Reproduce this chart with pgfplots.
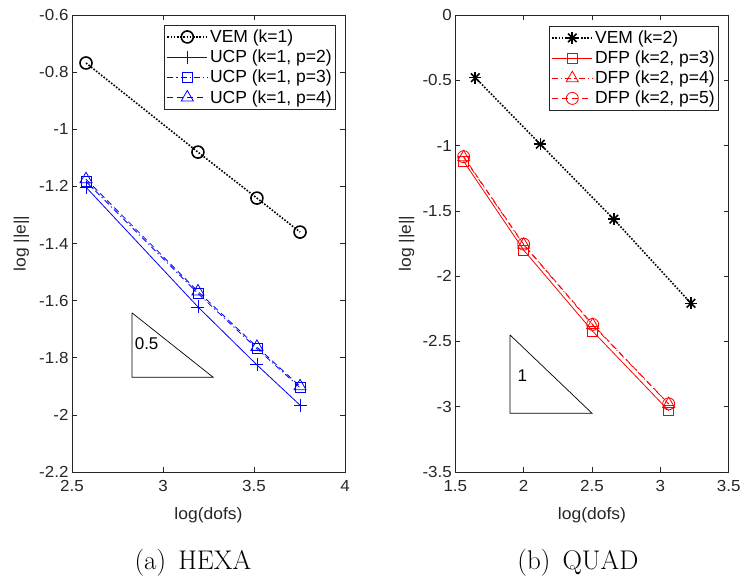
\documentclass[border=0pt]{standalone}
\usepackage{pgfplots}
\pgfplotsset{compat=1.18}
\usepackage{fontspec}
\newfontfamily\arial{Liberation Sans}
\newfontfamily\arialw[FakeStretch=1.06]{Liberation Sans}
\definecolor{mgray}{rgb}{0.15,0.15,0.15}
\pgfdeclareplotmark{mstar}{\pgfuseplotmark{+}\pgfuseplotmark{x}}
\tikzset{
  mdot/.style={dash pattern=on 1.6pt off 1.6pt},
  mdashdot/.style={dash pattern=on 6pt off 3pt on 1.2pt off 3pt},
  mdash/.style={dash pattern=on 6pt off 4pt},
}
\pgfplotsset{
  mystyle/.style={
    scale only axis,
    width=273.4pt, height=457pt,
    anchor=south west,
    axis line style={mgray, line width=0.6pt},
    every tick/.style={mgray, line width=0.6pt},
    major tick length=5pt,
    tick align=inside,
    /pgf/number format/assume math mode=true,
    tick label style={font=\arialw\fontsize{16}{18}\selectfont, text=mgray},
    xticklabel style={yshift=-5pt},
    label style={font=\arialw\fontsize{16.5}{18}\selectfont, text=mgray},
    legend style={font=\arial\fontsize{17.5}{19}\selectfont, draw=mgray, line width=0.6pt,
      inner xsep=2pt, inner ysep=2.5pt, row sep=2pt, cells={anchor=west}},
    legend cell align=left,
    legend image code/.code={
      \draw[mark repeat=2,mark phase=2] plot coordinates {(0pt,0pt) (20pt,0pt) (40pt,0pt)};
    },
    clip=false,
  }
}
\begin{document}
\begin{tikzpicture}
\path[use as bounding box] (0pt,0pt) rectangle (744pt,-583pt);
% ---------------- Left: HEXA ----------------
\begin{axis}[mystyle,
  at={(72pt,-472pt)}, width=273pt,
  xmin=2.5, xmax=4, ymin=-2.2, ymax=-0.6,
  xtick={2.5,3,3.5,4}, xticklabels={2.5,3,3.5,4},
  ytick={-2.2,-2,-1.8,-1.6,-1.4,-1.2,-1,-0.8,-0.6},
  yticklabels={-2.2,-2,-1.8,-1.6,-1.4,-1.2,-1,-0.8,-0.6},
  xlabel={log(dofs)}, ylabel={log ||e||},
  xlabel style={at={(axis description cs:0.5,-0.094)}, anchor=center},
  ylabel style={at={(axis description cs:-0.185,0.5)}, anchor=center},
  legend style={at={(0.967,0.978)}, anchor=north east},
]
\addplot[black, line width=1.6pt, mdot, mark=o, mark size=6pt, mark options={solid, line width=1.6pt}]
  coordinates {(2.577,-0.768) (3.192,-1.080) (3.516,-1.241) (3.753,-1.360)};
\addlegendentry{VEM (k=1)}
\addplot[blue, line width=0.8pt, mark=+, mark size=6.5pt, mark options={solid, line width=0.8pt}]
  coordinates {(2.577,-1.203) (3.192,-1.622) (3.516,-1.825) (3.753,-1.966)};
\addlegendentry{UCP (k=1, p=2)}
\addplot[blue, line width=0.8pt, mdashdot, mark=square, mark size=5pt, mark options={solid, line width=0.8pt}]
  coordinates {(2.577,-1.183) (3.192,-1.575) (3.516,-1.768) (3.753,-1.905)};
\addlegendentry{UCP (k=1, p=3)}
\addplot[blue, line width=0.8pt, mdash, mark=triangle, mark size=7pt, mark options={solid, line width=0.8pt}]
  coordinates {(2.577,-1.175) (3.192,-1.568) (3.516,-1.762) (3.753,-1.900)};
\addlegendentry{UCP (k=1, p=4)}
\addplot[black, line width=0.7pt, forget plot]
  coordinates {(2.83,-1.643) (2.83,-1.868) (3.275,-1.868) (2.83,-1.643)};
\node[font=\arial\fontsize{17}{19}\selectfont] at (axis cs:2.91,-1.752) {0.5};
\end{axis}
% ---------------- Right: QUAD ----------------
\begin{axis}[mystyle,
  at={(455.3pt,-472pt)},
  xmin=1.5, xmax=3.5, ymin=-3.5, ymax=0,
  xtick={1.5,2,2.5,3,3.5}, xticklabels={1.5,2,2.5,3,3.5},
  ytick={-3.5,-3,-2.5,-2,-1.5,-1,-0.5,0},
  yticklabels={-3.5,-3,-2.5,-2,-1.5,-1,-0.5,0},
  xlabel={log(dofs)}, ylabel={log ||e||},
  xlabel style={at={(axis description cs:0.5,-0.094)}, anchor=center},
  ylabel style={at={(axis description cs:-0.178,0.5)}, anchor=center},
  legend style={at={(0.9646,0.976)}, anchor=north east},
]
\addplot[black, line width=1.6pt, mdot, mark=mstar, mark size=6pt, mark options={solid, line width=1.6pt}]
  coordinates {(1.646,-0.480) (2.122,-0.990) (2.659,-1.564) (3.224,-2.208)};
\addlegendentry{VEM (k=2)}
\addplot[red, line width=0.8pt, mark=square, mark size=5pt, mark options={solid, line width=0.8pt}]
  coordinates {(1.561,-1.120) (2.000,-1.800) (2.505,-2.422) (3.061,-3.030)};
\addlegendentry{DFP (k=2, p=3)}
\addplot[red, line width=0.8pt, mdashdot, mark=triangle, mark size=7pt, mark options={solid, line width=0.8pt}]
  coordinates {(1.561,-1.090) (2.000,-1.760) (2.505,-2.375) (3.061,-2.980)};
\addlegendentry{DFP (k=2, p=4)}
\addplot[red, line width=0.8pt, mdash, mark=o, mark size=6pt, mark options={solid, line width=0.8pt}]
  coordinates {(1.561,-1.085) (2.000,-1.755) (2.505,-2.370) (3.061,-2.978)};
\addlegendentry{DFP (k=2, p=5)}
\addplot[black, line width=0.7pt, forget plot]
  coordinates {(1.9,-2.45) (1.9,-3.05) (2.5,-3.05) (1.9,-2.45)};
\node[font=\arial\fontsize{17}{19}\selectfont] at (axis cs:1.99,-2.76) {1};
\end{axis}
% captions
\node[font=\fontsize{27}{30}\selectfont, anchor=center] at (193pt,-563pt) {(a)\hspace{0.45em}HEXA};
\node[font=\fontsize{27}{30}\selectfont, anchor=center] at (578pt,-563pt) {(b)\hspace{0.45em}QUAD};
\end{tikzpicture}
\end{document}
